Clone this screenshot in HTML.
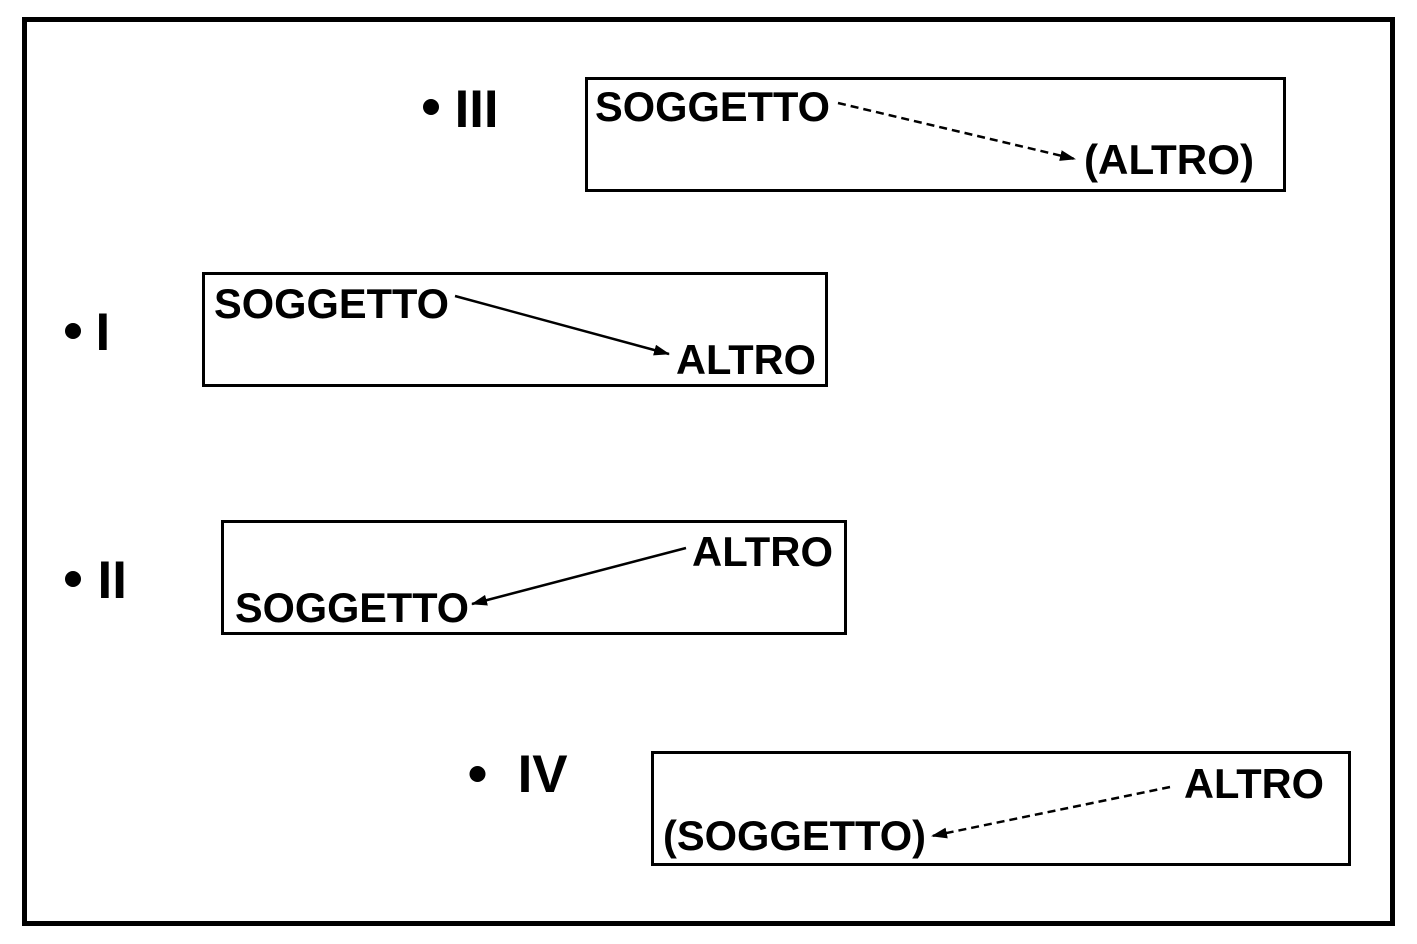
<!DOCTYPE html>
<html>
<head>
<meta charset="utf-8">
<style>
  html, body { margin:0; padding:0; background:#fff; }
  body { width:1417px; height:944px; overflow:hidden; }
  svg { display:block; }
  text { font-family:"Liberation Sans", Arial, sans-serif; font-weight:bold; fill:#000; }
</style>
</head>
<body>
<svg width="1417" height="944" viewBox="0 0 1417 944" xmlns="http://www.w3.org/2000/svg">
  <defs>
    <marker id="ah" viewBox="0 0 16 11" refX="15" refY="5.5" markerWidth="16" markerHeight="11" markerUnits="userSpaceOnUse" orient="auto">
      <path d="M0,0 L16,5.5 L0,11 Z" fill="#000"/>
    </marker>
  </defs>

  <!-- outer frame -->
  <rect x="24.5" y="19.5" width="1368" height="904" fill="#fff" stroke="#000" stroke-width="5"/>

  <!-- III -->
  <circle cx="431" cy="107" r="8" fill="#000"/>
  <text x="454.6" y="127" font-size="53" textLength="44" lengthAdjust="spacingAndGlyphs">III</text>
  <rect x="586.5" y="78.5" width="698" height="112" fill="none" stroke="#000" stroke-width="3"/>
  <text x="595" y="121" font-size="42" textLength="235" lengthAdjust="spacingAndGlyphs">SOGGETTO</text>
  <text x="1084" y="174" font-size="42" textLength="170" lengthAdjust="spacingAndGlyphs">(ALTRO)</text>
  <line x1="838" y1="103" x2="1075" y2="159" stroke="#000" stroke-width="2.5" stroke-dasharray="8,5" marker-end="url(#ah)"/>

  <!-- I -->
  <circle cx="73" cy="331" r="8" fill="#000"/>
  <text x="95.5" y="350" font-size="53" textLength="14.7" lengthAdjust="spacingAndGlyphs">I</text>
  <rect x="203.5" y="273.5" width="623" height="112" fill="none" stroke="#000" stroke-width="3"/>
  <text x="214" y="318" font-size="42" textLength="235" lengthAdjust="spacingAndGlyphs">SOGGETTO</text>
  <text x="676" y="374" font-size="42" textLength="140" lengthAdjust="spacingAndGlyphs">ALTRO</text>
  <line x1="455" y1="296" x2="669" y2="354" stroke="#000" stroke-width="2.5" marker-end="url(#ah)"/>

  <!-- II -->
  <circle cx="73" cy="579" r="8" fill="#000"/>
  <text x="97.5" y="598" font-size="53" textLength="29.4" lengthAdjust="spacingAndGlyphs">II</text>
  <rect x="222.5" y="521.5" width="623" height="112" fill="none" stroke="#000" stroke-width="3"/>
  <text x="692" y="566" font-size="42" textLength="141" lengthAdjust="spacingAndGlyphs">ALTRO</text>
  <text x="235" y="622" font-size="42" textLength="234" lengthAdjust="spacingAndGlyphs">SOGGETTO</text>
  <line x1="686" y1="548" x2="472" y2="604" stroke="#000" stroke-width="2.5" marker-end="url(#ah)"/>

  <!-- IV -->
  <circle cx="477.5" cy="774" r="8" fill="#000"/>
  <text x="517.6" y="792" font-size="53" textLength="50" lengthAdjust="spacingAndGlyphs">IV</text>
  <rect x="652.5" y="752.5" width="697" height="112" fill="none" stroke="#000" stroke-width="3"/>
  <text x="1184" y="798" font-size="42" textLength="140" lengthAdjust="spacingAndGlyphs">ALTRO</text>
  <text x="663" y="850" font-size="42" textLength="263" lengthAdjust="spacingAndGlyphs">(SOGGETTO)</text>
  <line x1="1170" y1="787" x2="932" y2="836" stroke="#000" stroke-width="2.5" stroke-dasharray="8,5" marker-end="url(#ah)"/>
</svg>
</body>
</html>
